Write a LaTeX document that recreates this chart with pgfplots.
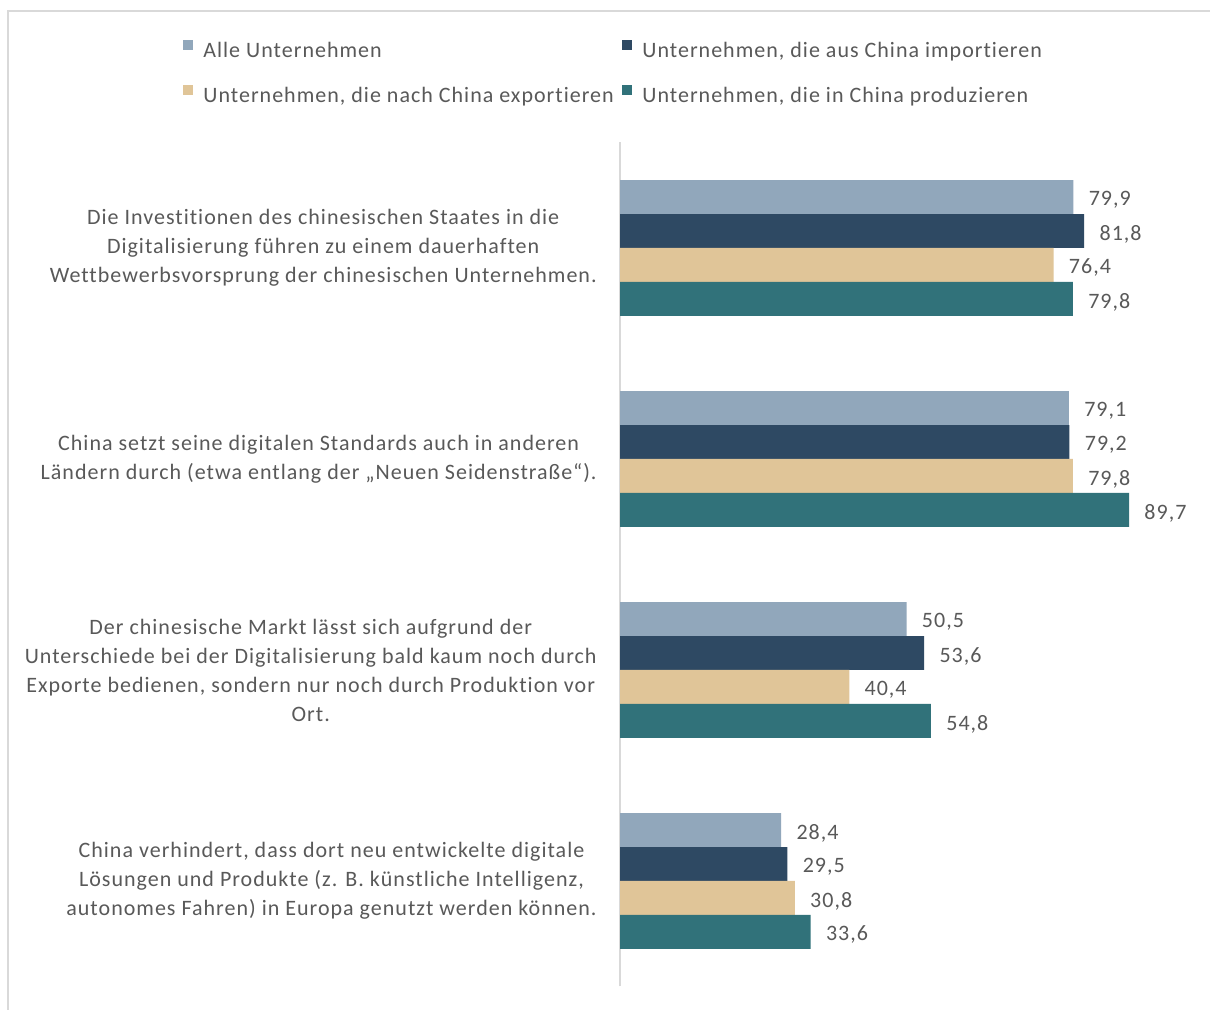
\documentclass[border=0pt]{standalone}
\usepackage{fontspec}
\setmainfont{Carlito}[LetterSpace=4.6, Ligatures=NoCommon]
\usepackage{pgfplots}
\pgfplotsset{compat=1.18}

\definecolor{alle}{HTML}{91A7BB}
\definecolor{imp}{HTML}{2E4963}
\definecolor{exp}{HTML}{E0C598}
\definecolor{prod}{HTML}{31727A}
\definecolor{txt}{HTML}{595959}
\definecolor{rule}{HTML}{D9D9D9}

\begin{document}
\begin{tikzpicture}
\useasboundingbox (0,0) rectangle (605pt,505pt);
\fill[white] (0,0) rectangle (605pt,505pt);
\draw[rule, line width=1pt] (4pt,0) -- (4pt,499.5pt) -- (605pt,499.5pt);

\begin{axis}[
    at={(310pt,11.75pt)}, anchor=south west,
    scale only axis, width=283.75pt, height=422pt,
    xbar, xmin=0, xmax=100, ymin=-0.5, ymax=3.5,
    axis x line=none, axis y line=left,
    y axis line style={draw=rule, line width=1pt, -},
    ytick={0,1,2,3}, major tick length=0pt,
    yticklabels={
      {China verhindert, dass dort neu entwickelte digitale\\Lösungen und Produkte (z. B. künstliche Intelligenz,\\autonomes Fahren) in Europa genutzt werden können.},
      {Der chinesische Markt lässt sich aufgrund der\\Unterschiede bei der Digitalisierung bald kaum noch durch\\Exporte bedienen, sondern nur noch durch Produktion vor\\Ort.},
      {China setzt seine digitalen Standards auch in anderen\\Ländern durch (etwa entlang der „Neuen Seidenstraße“).},
      {Die Investitionen des chinesischen Staates in die\\Digitalisierung führen zu einem dauerhaften\\Wettbewerbsvorsprung der chinesischen Unternehmen.}
    },
    yticklabel style={align=center, text=txt, inner sep=0pt, xshift=-11.5pt,
      font=\fontsize{11}{14.5}\selectfont},
    bar width=0.161,
    nodes near coords,
    nodes near coords align={horizontal},
    every node near coord/.append style={text=txt, inner sep=0pt, xshift=7.5pt,
      yshift=-1.5pt, font=\fontsize{11}{13}\selectfont},
    /pgf/number format/.cd, use comma, fixed, fixed zerofill, precision=1,
      assume math mode=true, /pgfplots/.cd,
    legend columns=2,
    legend style={at={(-0.770,1.1214)}, anchor=north west, draw=none, fill=none,
      font=\fontsize{11}{13}\selectfont, text=txt, inner sep=0pt,
      row sep=12pt, nodes={inner sep=0pt},
      /tikz/every odd column/.append style={column sep=5pt}},
    legend cell align=left,
    legend image code/.code={\fill[#1] (0pt,0.6pt) rectangle (5pt,5.6pt);},
]
\addplot[fill=alle, draw=none, bar shift=0.2415] coordinates {(79.9,3) (79.1,2) (50.5,1) (28.4,0)};
\addlegendentry{\makebox[209.5pt][l]{Alle Unternehmen}}
\addplot[fill=imp, draw=none, bar shift=0.0805] coordinates {(81.8,3) (79.2,2) (53.6,1) (29.5,0)};
\addlegendentry{Unternehmen, die aus China importieren}
\addplot[fill=exp, draw=none, bar shift=-0.0805] coordinates {(76.4,3) (79.8,2) (40.4,1) (30.8,0)};
\addlegendentry{\makebox[209.5pt][l]{Unternehmen, die nach China exportieren}}
\addplot[fill=prod, draw=none, bar shift=-0.2415] coordinates {(79.8,3) (89.7,2) (54.8,1) (33.6,0)};
\addlegendentry{Unternehmen, die in China produzieren}
\end{axis}
\end{tikzpicture}
\end{document}
